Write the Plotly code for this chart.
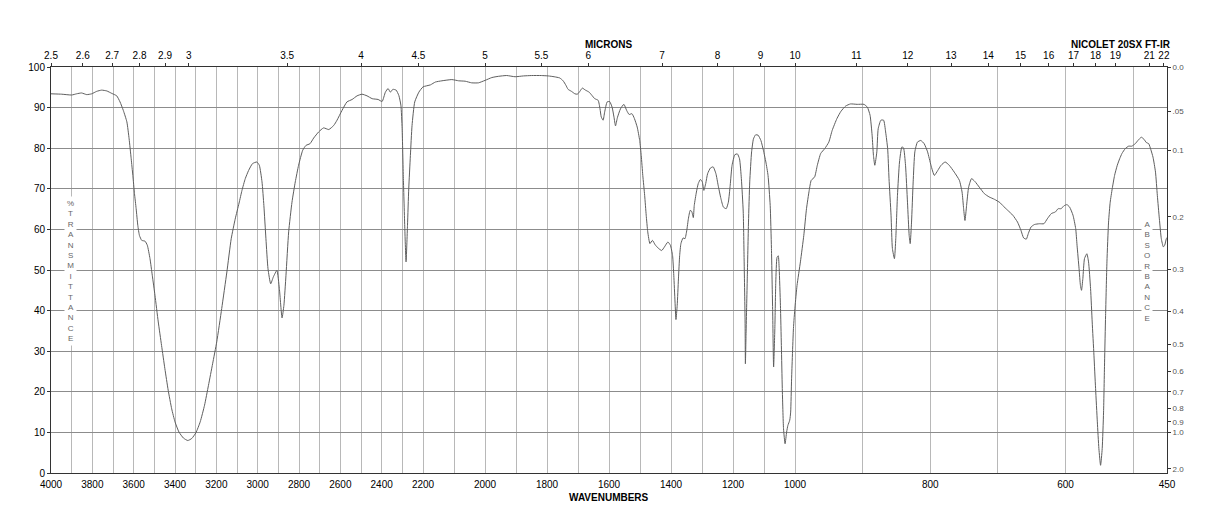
import numpy as np
import plotly.graph_objects as go

# ---------------- data ----------------
# 4000 - 2200 cm-1 region
wn_high = [4000, 3948, 3900, 3876, 3852, 3827, 3803, 3779, 3755, 3730, 3706, 3682, 3666, 3650,
           3633, 3622, 3612, 3604, 3596, 3588, 3580, 3572, 3561, 3545, 3534, 3521, 3510, 3497,
           3481, 3465, 3449, 3433, 3416, 3400, 3381, 3359, 3338, 3319, 3299, 3278, 3257, 3238,
           3218, 3198, 3174, 3149, 3128, 3109, 3090, 3076, 3060, 3044, 3025, 3004, 2992, 2979,
           2970, 2960, 2950, 2937, 2924, 2907, 2895, 2882, 2873, 2863, 2850, 2834, 2818, 2802,
           2782, 2766, 2747, 2729, 2705, 2681, 2656, 2632, 2616, 2592, 2568, 2543, 2519, 2495,
           2471, 2446, 2417, 2398, 2382, 2369, 2358, 2346, 2330, 2317, 2307, 2301, 2295, 2288,
           2282, 2275, 2269, 2261, 2253, 2240, 2220]
t_high = [93.4, 93.3, 93.1, 93.4, 93.6, 93.2, 93.4, 94.0, 94.3, 94.1, 93.5, 92.9, 91.4, 89.3,
          86.5, 82.3, 77.4, 73.3, 68.8, 65.1, 61.0, 58.5, 57.3, 57.1, 56.1, 52.8, 48.7, 43.8,
          37.2, 31.4, 25.7, 20.4, 15.8, 12.6, 10.1, 8.6, 8.0, 8.5, 9.9, 12.6, 16.7, 21.6,
          26.9, 32.3, 40.5, 49.5, 57.7, 62.5, 66.5, 69.6, 72.5, 74.5, 76.2, 76.6, 75.8, 71.7,
          65.9, 57.7, 50.3, 46.6, 48.3, 49.9, 45.4, 38.2, 41.3, 48.7, 59.4, 66.7, 71.7, 75.8,
          79.5, 80.7, 81.1, 82.5, 84.0, 85.0, 84.6, 85.6, 86.9, 89.3, 91.4, 92.0, 92.9, 93.3,
          92.9, 92.2, 92.0, 91.5, 93.8, 94.7, 93.8, 94.5, 94.3, 93.0, 90.6, 84.8, 72.5, 60.2,
          52.0, 61.0, 70.0, 78.2, 85.6, 91.4, 93.8]

# 2200 - 1000 cm-1 region
wn_mid = [2200, 2176, 2160, 2139, 2107, 2085, 2064, 2043, 2021, 2000, 1978, 1957, 1930, 1903,
          1876, 1850, 1818, 1796, 1777, 1759, 1748, 1739, 1732, 1721, 1710, 1702, 1694, 1686,
          1676, 1664, 1655, 1646, 1635, 1629, 1625, 1619, 1614, 1606, 1598, 1590, 1584, 1579,
          1573, 1563, 1552, 1543, 1535, 1526, 1518, 1509, 1501, 1496, 1491, 1485, 1480, 1475,
          1468, 1460, 1451, 1440, 1430, 1421, 1410, 1402, 1395, 1391, 1387, 1384, 1380, 1376,
          1372, 1368, 1361, 1355, 1349, 1344, 1338, 1333, 1328, 1325, 1318, 1312, 1305, 1299,
          1294, 1288, 1282, 1273, 1264, 1255, 1248, 1239, 1231, 1222, 1215, 1209, 1203, 1194,
          1186, 1179, 1173, 1167, 1164, 1161, 1160, 1158, 1154, 1150, 1146, 1140, 1134, 1127,
          1119, 1110, 1102, 1094, 1087, 1080, 1076, 1072, 1069, 1065, 1062, 1058, 1054, 1051,
          1047, 1044, 1041, 1037, 1032, 1027, 1023, 1017, 1014, 1011, 1005]
t_mid = [95.1, 95.6, 96.3, 96.6, 96.9, 96.6, 96.5, 96.1, 96.1, 96.7, 97.4, 97.7, 97.9, 97.6,
         97.8, 97.9, 97.9, 97.8, 97.6, 97.3, 96.6, 95.5, 94.5, 94.0, 93.4, 93.3, 94.0, 94.8,
         94.3, 93.8, 93.0, 92.2, 91.8, 89.7, 87.7, 86.9, 88.9, 91.4, 91.5, 90.1, 87.7, 85.5,
         87.5, 89.7, 90.8, 89.3, 88.3, 88.5, 87.3, 85.2, 81.9, 78.2, 73.3, 68.4, 63.5, 59.4,
         56.5, 57.3, 56.2, 55.3, 54.8, 55.7, 56.9, 56.1, 53.6, 48.7, 42.1, 37.8, 41.3, 47.8,
         53.6, 56.5, 57.9, 57.7, 59.8, 62.6, 64.7, 64.4, 62.9, 65.9, 69.2, 71.3, 72.3, 71.7,
         69.6, 71.3, 73.7, 75.1, 75.4, 73.7, 70.9, 67.6, 65.5, 65.1, 66.7, 70.9, 75.8, 78.4,
         78.6, 77.4, 72.5, 64.3, 52.0, 37.2, 26.9, 33.9, 47.8, 61.8, 71.7, 79.1, 82.3, 83.3,
         83.2, 81.9, 79.5, 76.6, 73.3, 65.9, 55.3, 39.7, 26.1, 35.6, 47.0, 53.1, 53.5, 50.3,
         41.3, 31.4, 20.8, 10.9, 7.2, 10.1, 11.7, 13.0, 15.0, 23.2, 35.6]

# 1000 - 450 cm-1 region
wn_low = [1000, 997, 992, 987, 983, 979, 976, 971, 967, 962, 956, 950, 945, 938, 932, 925, 918,
          908, 898, 893, 889, 886, 884, 882, 879, 877, 873, 869, 866, 863, 861, 858, 856, 853,
          851, 848.5, 845.5, 842, 839.6, 836.6, 833.7, 831.2, 829.7, 827.7, 825.3, 822.8, 819,
          814, 809, 804, 799, 794, 789, 784, 778, 772, 764.5, 757, 753, 750.7, 748.7, 746.3,
          743.3, 739, 734, 727.5, 720, 713, 705, 697, 693, 685.5, 678, 671, 666, 662, 658, 655,
          651, 646, 638.6, 632, 627, 621, 615, 611, 606.5, 602.5, 598, 594, 589, 585, 583, 580,
          578, 576.4, 574.4, 572, 568.5, 566, 563, 560.6, 558, 555.6, 553, 550.7, 548.2, 545.8,
          543.8, 542.3, 540.8, 538.8, 536.4, 534, 531, 527.5, 523.5, 520, 516.6, 511.7, 506.7,
          502, 497, 493, 488, 484, 480.6, 477, 474, 470.7, 467, 464.3, 461.3, 458.4, 455.4,
          453.4, 451, 450]
t_low = [40.9, 46.2, 52.0, 58.5, 65.1, 69.6, 72.1, 72.9, 75.8, 78.7, 79.9, 81.5, 84.4, 87.3,
         89.1, 90.4, 90.9, 90.8, 90.8, 90.1, 88.1, 83.2, 78.2, 75.8, 79.1, 84.8, 86.9, 86.9,
         84.0, 79.9, 72.5, 63.5, 55.3, 52.8, 57.7, 68.4, 76.6, 80.3, 80.1, 75.8, 66.7, 58.5,
         56.5, 61.8, 71.7, 79.1, 81.5, 81.9, 81.1, 79.1, 75.8, 73.3, 74.5, 75.8, 76.6, 75.8,
         74.1, 72.1, 69.2, 65.1, 62.2, 65.9, 70.4, 72.5, 71.8, 70.4, 68.8, 68.0, 67.4, 66.6,
         65.9, 64.7, 63.5, 61.8, 59.8, 57.9, 57.6, 59.0, 60.6, 61.2, 61.4, 61.4, 62.6, 63.9,
         64.3, 65.1, 65.1, 65.8, 66.1, 65.5, 63.5, 60.2, 56.1, 50.3, 46.2, 45.0, 47.9, 52.8,
         54.0, 52.0, 45.4, 37.2, 29.0, 20.8, 12.6, 6.0, 1.9, 6.0, 15.0, 27.3, 38.8, 52.0,
         61.8, 66.7, 70.0, 73.3, 75.8, 77.4, 78.7, 79.9, 80.5, 80.5, 81.1, 81.9, 82.7, 82.2,
         81.4, 81.1, 79.7, 77.8, 74.1, 68.4, 62.6, 57.7, 55.7, 56.1, 57.7, 58.0]

# tick labels
wn_major = [4000, 3800, 3600, 3400, 3200, 3000, 2800, 2600, 2400, 2200, 2000, 1800, 1600,
            1400, 1200, 1000, 800, 600, 450]
wn_minor = [3900, 3700, 3500, 3300, 3100, 2900, 2700, 2500, 2300, 2100, 1900, 1700, 1500,
            1300, 1100, 900, 700, 500]
microns = [2.5, 2.6, 2.7, 2.8, 2.9, 3, 3.5, 4, 4.5, 5, 5.5, 6, 7, 8, 9, 10, 11, 12, 13, 14,
           15, 16, 17, 18, 19, 21, 22]
absorbance = [0.0, 0.05, 0.1, 0.2, 0.3, 0.4, 0.5, 0.6, 0.7, 0.8, 0.9, 1.0, 2.0]
absorbance_text = ["0.0", ".05", "0.1", "0.2", "0.3", "0.4", "0.5", "0.6", "0.7", "0.8",
                   "0.9", "1.0", "2.0"]
transmittance_ticks = list(range(0, 101, 10))

# ---------------- chart scale: three equal-width wavenumber sections ----------------
BREAKS_WN = [4000, 2200, 1000, 450]
BREAKS_POS = [0, 1, 2, 3]


def wn_pos(w):
    w = np.asarray(w, dtype=float)
    return np.interp(-w, [-b for b in BREAKS_WN], BREAKS_POS)


wn_all = np.array(wn_high + wn_mid + wn_low, dtype=float)
t_all = np.array(t_high + t_mid + t_low, dtype=float)

FONT = "Liberation Sans, Arial, Helvetica, sans-serif"
AXIS_COLOR = "#333333"

fig = go.Figure()
fig.add_trace(go.Scatter(
    x=wn_pos(wn_all), y=t_all, mode="lines",
    line=dict(color="#5e5e5e", width=1, shape="spline", smoothing=0.5),
    showlegend=False, hoverinfo="skip"))
# invisible anchors for the secondary axes
fig.add_trace(go.Scatter(x=[0], y=[50], xaxis="x2", yaxis="y", mode="markers",
                         marker=dict(opacity=0), showlegend=False, hoverinfo="skip"))
fig.add_trace(go.Scatter(x=[0], y=[50], xaxis="x", yaxis="y2", mode="markers",
                         marker=dict(opacity=0), showlegend=False, hoverinfo="skip"))

fig.update_layout(
    width=1218, height=528,
    margin=dict(l=51, r=51, t=67, b=55),
    paper_bgcolor="white", plot_bgcolor="white",
    font=dict(family=FONT, size=10, color="black"),
    showlegend=False,
    xaxis=dict(
        range=[0, 3], tickmode="array",
        tickvals=list(wn_pos(wn_major)), ticktext=[str(v) for v in wn_major],
        showgrid=True, gridcolor="#b8b8b8", gridwidth=1,
        minor=dict(tickmode="array", tickvals=list(wn_pos(wn_minor)), showgrid=True,
                   gridcolor="#b8b8b8", gridwidth=1, ticks=""),
        showline=True, linecolor=AXIS_COLOR, linewidth=1, mirror=True,
        ticks="", zeroline=False, ticklabelstandoff=2,
        tickfont=dict(size=10, color="black"),
    ),
    xaxis2=dict(
        range=[0, 3], overlaying="x", side="top", anchor="y", tickmode="array",
        tickvals=list(wn_pos(10000.0 / np.array(microns))),
        ticktext=[("%g" % m) for m in microns],
        ticks="outside", ticklen=3, tickcolor=AXIS_COLOR,
        showgrid=False, showline=False, zeroline=False, ticklabelstandoff=0,
        tickfont=dict(size=10, color="black"),
    ),
    yaxis=dict(
        range=[0, 100], tickmode="array", tickvals=transmittance_ticks,
        showgrid=True, gridcolor="#8c8c8c", gridwidth=1,
        showline=True, linecolor=AXIS_COLOR, linewidth=1, mirror=True,
        ticks="outside", ticklen=3, tickcolor=AXIS_COLOR, zeroline=False,
        tickfont=dict(size=10, color="black"),
    ),
    yaxis2=dict(
        range=[0, 100], overlaying="y", side="right", anchor="x", tickmode="array",
        tickvals=[100 * 10 ** (-a) for a in absorbance], ticktext=absorbance_text,
        ticks="outside", ticklen=3, tickcolor=AXIS_COLOR,
        showgrid=False, showline=False, zeroline=False,
        tickfont=dict(size=8, color="#555555"),
    ),
)

annotations = [
    dict(text="<b>MICRONS</b>", x=0.5, y=1.055, xref="paper", yref="paper",
         xanchor="center", yanchor="middle", showarrow=False,
         font=dict(size=10, color="black")),
    dict(text="<b>NICOLET 20SX FT-IR</b>", x=0.9585, y=1.055, xref="paper", yref="paper",
         xanchor="center", yanchor="middle", showarrow=False,
         font=dict(size=10, color="black")),
    dict(text="<b>WAVENUMBERS</b>", x=0.5, y=-0.061, xref="paper", yref="paper",
         xanchor="center", yanchor="middle", showarrow=False,
         font=dict(size=10, color="black")),
    dict(text="<br>".join(list("%TRANSMITTANCE")), x=0.0179, y=49.7, xref="paper", yref="y",
         xanchor="center", yanchor="middle", showarrow=False,
         font=dict(size=8, color="#666666"), bgcolor="white", borderpad=2),
    dict(text="<br>".join(list("ABSORBANCE")), x=0.9823, y=49.7, xref="paper", yref="y",
         xanchor="center", yanchor="middle", showarrow=False,
         font=dict(size=8, color="#666666"), bgcolor="white", borderpad=2),
]
fig.update_layout(annotations=annotations)

fig.write_html("out.html")
